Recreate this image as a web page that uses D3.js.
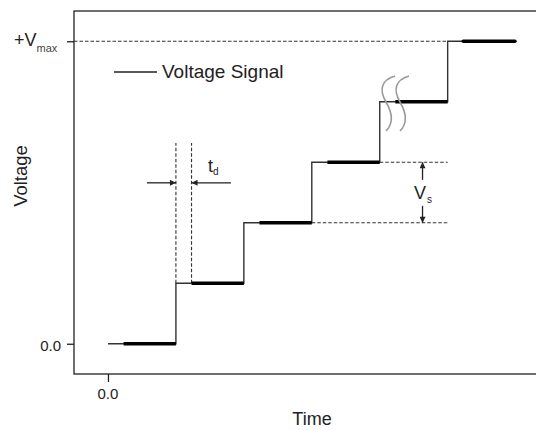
<!DOCTYPE html>
<html>
<head>
<meta charset="utf-8">
<script src="https://cdn.jsdelivr.net/npm/d3@7"></script>
<style>
  html, body { margin: 0; padding: 0; background: #fff; }
  svg { display: block; }
  text { font-family: "Liberation Sans", Arial, Helvetica, sans-serif; fill: #222; }
</style>
</head>
<body>
<svg id="chart" width="536" height="430"></svg>
<script>
// Staircase voltage signal: each step rises by Vs, the first part of each
// plateau (length td) is the settling delay, the rest is the held level.
const stepTimes  = [0, 1, 2, 3, 4, 5];
const stepLevels = [0, 1, 2, 3, 4, 5];
const endTime = 6;
const delay = 0.23;          // td
const vMax = 5;              // +Vmax level

const yTickValues = [0, 5];
const yTickLabels = ["0.0", "+V"];
const xTickValues = [0];
const xTickLabels = ["0.0"];

const svg = d3.select("#chart");
const plotLeft = 74, plotRight = 536, plotTop = 11, plotBottom = 374;

const x = d3.scaleLinear().domain([-0.5, 6.3]).range([plotLeft, plotRight]);
const y = d3.scaleLinear().domain([-0.5, 5.5]).range([plotBottom, plotTop]);

// frame (open past the right edge of the view)
svg.append("rect")
  .attr("x", plotLeft).attr("y", plotTop)
  .attr("width", plotRight - plotLeft + 10).attr("height", plotBottom - plotTop)
  .attr("fill", "none").attr("stroke", "#222").attr("stroke-width", 1.3);

// axes
const yAxis = d3.axisLeft(y).tickValues(yTickValues).tickSize(7).tickFormat(() => "");
const gy = svg.append("g").attr("transform", `translate(${plotLeft},0)`).call(yAxis);
gy.select(".domain").remove();
gy.selectAll(".tick line").attr("stroke", "#222").attr("stroke-width", 1.3);

const xAxis = d3.axisBottom(x).tickValues(xTickValues).tickSize(8).tickFormat(() => "");
const gx = svg.append("g").attr("transform", `translate(0,${plotBottom})`).call(xAxis);
gx.select(".domain").remove();
gx.selectAll(".tick line").attr("stroke", "#222").attr("stroke-width", 1.3);

// tick labels
svg.append("text").attr("x", 61).attr("y", y(0) + 7).attr("text-anchor", "end")
  .attr("font-size", 15).text(yTickLabels[0]);
const vmaxLabel = svg.append("text").attr("x", 14).attr("y", y(vMax) + 5).attr("font-size", 18);
vmaxLabel.append("tspan").text(yTickLabels[1]);
vmaxLabel.append("tspan").attr("font-size", 11).attr("dy", 6).attr("fill", "#444").text("max");

svg.append("text").attr("x", x(xTickValues[0])).attr("y", 399).attr("text-anchor", "middle")
  .attr("font-size", 15).text(xTickLabels[0]);

// axis titles
svg.append("text").attr("x", 312).attr("y", 425).attr("text-anchor", "middle")
  .attr("font-size", 18).text("Time");
svg.append("text").attr("transform", "translate(27,176) rotate(-90)")
  .attr("text-anchor", "middle").attr("font-size", 18.5).text("Voltage");

// dashed reference lines
const dash = "3.5,2";
const refLines = [
  {x1: -0.5, x2: 5, y1: vMax, y2: vMax},
  {x1: 4, x2: 5, y1: 3, y2: 3},
  {x1: 3, x2: 5, y1: 2, y2: 2},
  {x1: 1, x2: 1, y1: 1, y2: 3.32},
  {x1: 1 + delay, x2: 1 + delay, y1: 1, y2: 3.32}
];
svg.append("g").selectAll("line").data(refLines).join("line")
  .attr("x1", d => x(d.x1)).attr("x2", d => x(d.x2))
  .attr("y1", d => y(d.y1)).attr("y2", d => y(d.y2))
  .attr("stroke", "#333").attr("stroke-width", 1.1).attr("stroke-dasharray", dash);

// signal: thin outline of the staircase
const path = [];
stepTimes.forEach((t, i) => {
  const t2 = i < stepTimes.length - 1 ? stepTimes[i + 1] : endTime;
  path.push([t, stepLevels[i]]);
  path.push([t2, stepLevels[i]]);
});
path.pop();
path.push([stepTimes[stepTimes.length - 1] + delay, stepLevels[stepLevels.length - 1]]);
svg.append("path")
  .attr("d", d3.line().x(d => x(d[0])).y(d => y(d[1]))(path))
  .attr("fill", "none").attr("stroke", "#333").attr("stroke-width", 1.4);

// held levels (thick)
const held = stepTimes.map((t, i) => ({
  t1: t + delay,
  t2: i < stepTimes.length - 1 ? stepTimes[i + 1] : endTime - 0.01,
  v: stepLevels[i]
}));
svg.append("g").selectAll("line").data(held).join("line")
  .attr("x1", d => x(d.t1)).attr("x2", d => x(d.t2))
  .attr("y1", d => y(d.v)).attr("y2", d => y(d.v))
  .attr("stroke", "#000").attr("stroke-width", 3.6)
  .attr("stroke-linecap", (d, i) => i === held.length - 1 ? "round" : "butt");

// break marks across the fourth step
const breakG = svg.append("g").attr("fill", "none").attr("stroke", "#9a9a9a").attr("stroke-width", 1.6);
[0, 14].forEach(dx => {
  const ox = 383 + dx, oy = 76;
  breakG.append("path")
    .attr("d", `M${ox + 12},${oy} C${ox - 2},${oy + 4} ${ox - 4},${oy + 14} ${ox + 3},${oy + 26}
                C${ox + 10},${oy + 38} ${ox + 10},${oy + 48} ${ox + 3},${oy + 55}`);
});

// arrow markers
const defs = svg.append("defs");
defs.append("marker").attr("id", "head")
  .attr("viewBox", "0 0 10 10").attr("refX", 10).attr("refY", 5)
  .attr("markerWidth", 7).attr("markerHeight", 6).attr("markerUnits", "userSpaceOnUse")
  .attr("orient", "auto")
  .append("path").attr("d", "M0,0 L10,5 L0,10 Z").attr("fill", "#222");

const arrows = [
  {x1: 0.574, y1: 2.66, x2: 1, y2: 2.66},
  {x1: 1.81, y1: 2.66, x2: 1 + delay, y2: 2.66},
  {x1: 4.63, y1: 2.71, x2: 4.63, y2: 3},
  {x1: 4.63, y1: 2.28, x2: 4.63, y2: 2}
];
svg.append("g").selectAll("line").data(arrows).join("line")
  .attr("x1", d => x(d.x1)).attr("y1", d => y(d.y1))
  .attr("x2", d => x(d.x2)).attr("y2", d => y(d.y2))
  .attr("stroke", "#222").attr("stroke-width", 1.3)
  .attr("marker-end", "url(#head)");

// td label
const td = svg.append("text").attr("x", 208).attr("y", 172).attr("font-size", 18);
td.append("tspan").text("t");
td.append("tspan").attr("font-size", 10).attr("dy", 3).text("d");

// Vs label
const vs = svg.append("text").attr("x", 414).attr("y", 199).attr("font-size", 18);
vs.append("tspan").text("V");
vs.append("tspan").attr("font-size", 10).attr("dy", 4).attr("dx", 1).text("s");

// legend
svg.append("line").attr("x1", 114).attr("x2", 157).attr("y1", 72).attr("y2", 72)
  .attr("stroke", "#222").attr("stroke-width", 1.3);
svg.append("text").attr("x", 162).attr("y", 78).attr("font-size", 19).text("Voltage Signal");
</script>
</body>
</html>
